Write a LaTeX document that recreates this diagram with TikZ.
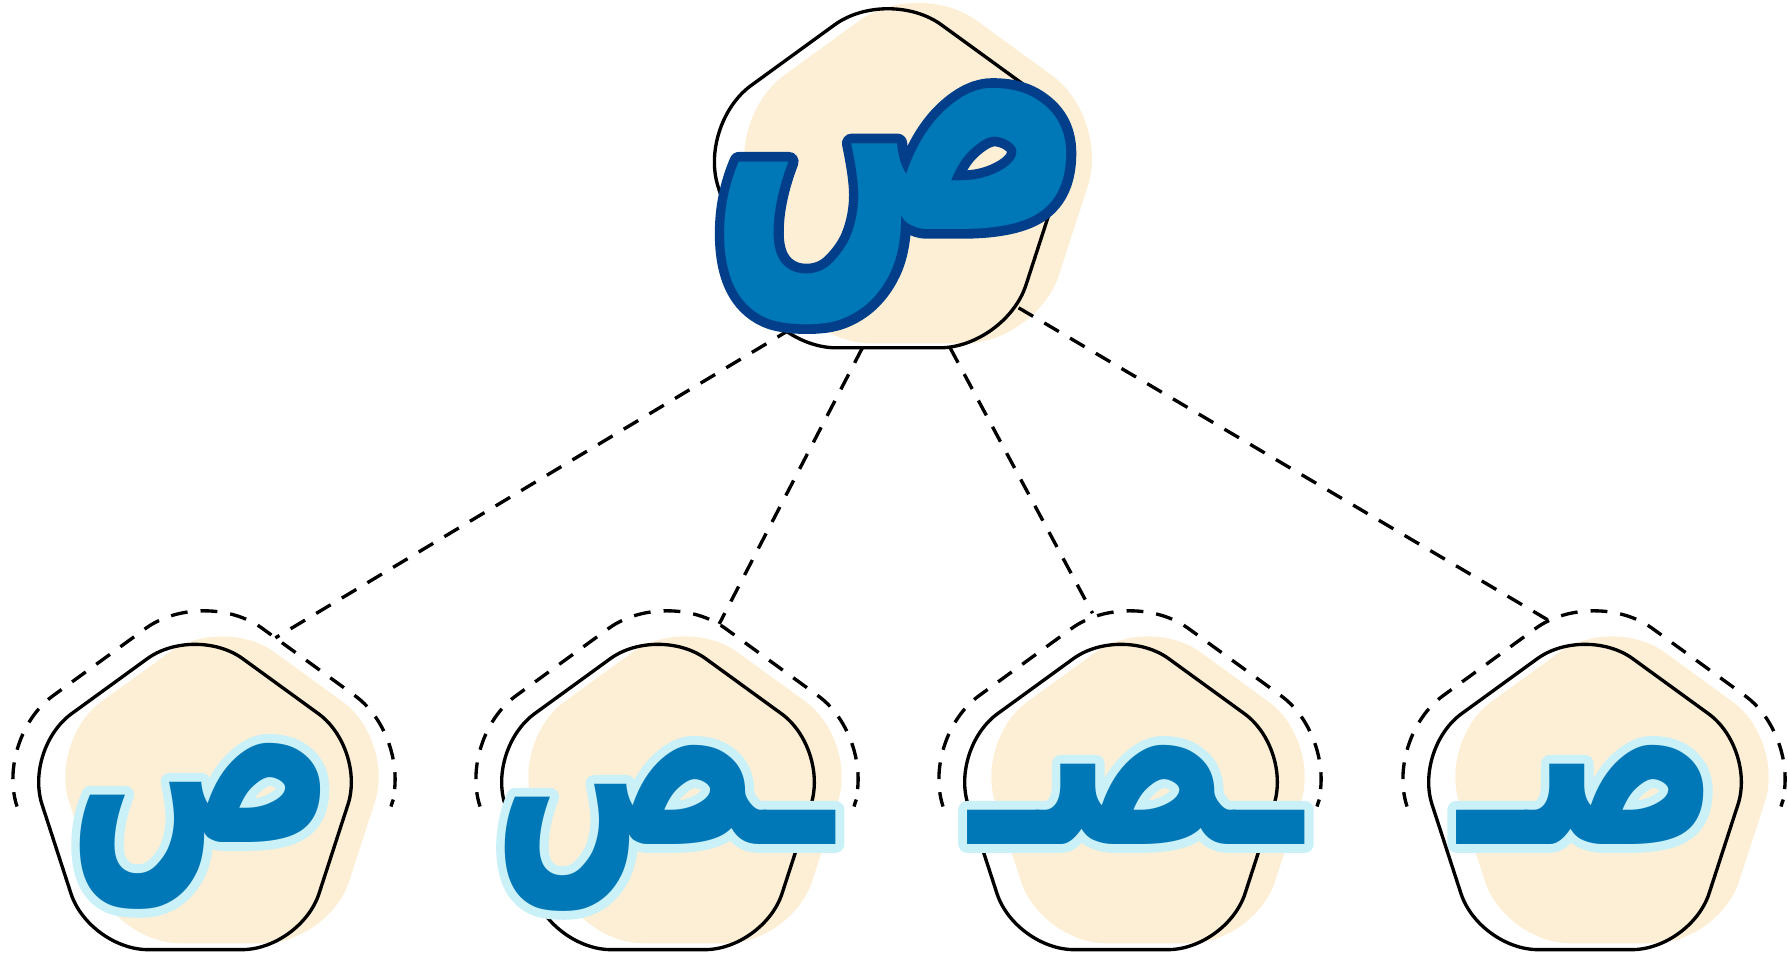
\documentclass[tikz,border=0pt]{standalone}
\usepackage{fontspec}
\usepackage{xcolor}
\usepackage{tikz}
\usetikzlibrary{calc,shapes.geometric}
\newfontfamily\arabicfont[Script=Arabic,FakeStretch=0.73]{DejaVu Sans}
\TeXXeTstate=1
\definecolor{peach}{HTML}{FDEFD6}
\definecolor{glyphblue}{HTML}{0077B6}
\definecolor{deepblue}{HTML}{023E8A}
\definecolor{paleblue}{HTML}{CAF0F8}
\newcommand\halo[3]{\ooalign{\color{#1}\special{pdf:literal direct q #2 w 1 j 2 Tr}#3\special{pdf:literal direct Q}\cr#3}}

\begin{document}
\begin{tikzpicture}[x=0.1mm,y=-0.1mm,
  pent/.style={regular polygon,regular polygon sides=5,inner sep=0pt,outer sep=0pt},
  shadow/.style={pent,fill=peach},
  frame/.style={pent,draw,line width=0.95pt},
  ring/.style={pent,minimum size=44mm},
  link/.style={dash pattern=on 4.8pt off 3.7pt,line width=0.95pt},
  letter/.style={anchor=base,inner sep=0pt,text=glyphblue}]
\useasboundingbox (0,0) rectangle (1788,956);
\node[shadow,minimum size=40.4mm,rounded corners=7.2mm] at (918,180) {};
\node[frame,minimum size=40mm,rounded corners=6.6mm] (top) at (888,186) {};
\foreach \x/\n in {195/1,658/2,1121/3,1585/4}{
  \node[shadow,minimum size=36.4mm,rounded corners=6.5mm] at (\x+27,796) {};
  \node[frame,minimum size=36mm,rounded corners=5.9mm] (p\n) at (\x,804) {};
  \node[ring] (d\n) at (\x+9,806) {};
  \draw[link,rounded corners=7.2mm] ($(d\n.corner 2)!.27!(d\n.corner 3)$) -- (d\n.corner 2)
    -- (d\n.corner 1) -- (d\n.corner 5) -- ($(d\n.corner 5)!.25!(d\n.corner 4)$);
}
\draw[link] ($(top.center)!.88!(top.236)$) -- (d1.67);
\draw[link] (top.261) -- (d2.74);
\draw[link] (top.291) -- (d3.101);
\draw[link] (top.317) -- (d4.104);
\node[letter,font=\arabicfont\bfseries\fontsize{111}{120}\selectfont] (big) at (898,229) {\halo{deepblue}{5.5}{\beginR ص\endR}};
\node[letter,font=\arabicfont\bfseries\fontsize{78}{86}\selectfont] (iso) at (202,842) {\halo{paleblue}{5}{\beginR ص\endR}};
\node[letter,font=\arabicfont\bfseries\fontsize{78}{86}\selectfont] (fin) at (663,844) {\halo{paleblue}{5}{\beginR ـص\endR}};
\node[letter,font=\arabicfont\bfseries\fontsize{78}{86}\selectfont] (med) at (1136,844) {\halo{paleblue}{5}{\beginR ـصـ\endR}};
\node[letter,font=\arabicfont\bfseries\fontsize{78}{86}\selectfont] (ini) at (1589,844) {\halo{paleblue}{5}{\beginR صـ\endR}};
\end{tikzpicture}
\end{document}
